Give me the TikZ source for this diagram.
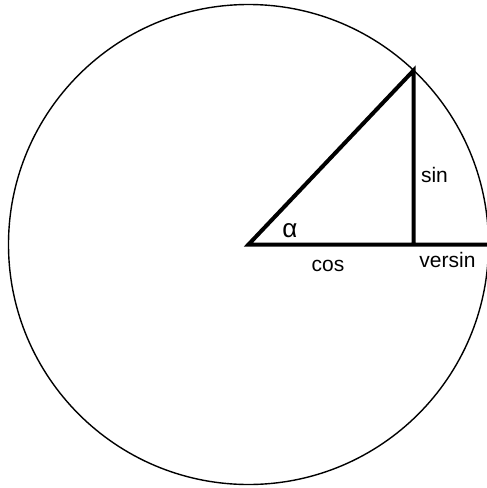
\documentclass[tikz,border=0pt]{standalone}
\usepackage{fontspec}
\setmainfont{Liberation Sans}
\begin{document}
\begin{tikzpicture}[x=1pt,y=-1pt,
  thin line/.style={line width=1.4pt},
  thick line/.style={line width=4pt, line join=miter},
  lbl/.style={inner sep=0pt, anchor=base, font=\fontsize{21}{25}\selectfont},
  greek/.style={inner sep=0pt, anchor=base, font=\fontsize{26}{30}\selectfont}]
\useasboundingbox (0,0) rectangle (487,488);
\coordinate (O) at (248.5,244.5);
\coordinate (P) at (413.5,70.5);
\coordinate (F) at (413.5,244.5);
\coordinate (E) at (490,244.5);
\draw[thin line] (O) circle[radius=240];
\draw[thick line] (E) -- (O) -- (P) -- (F);
\node[greek] (alpha) at (290,237) {α};
\node[lbl] (cos) at (328,271) {cos};
\node[lbl] (versin) at (447.5,267) {versin};
\node[lbl] (sin) at (434.5,182) {sin};
\end{tikzpicture}
\end{document}
